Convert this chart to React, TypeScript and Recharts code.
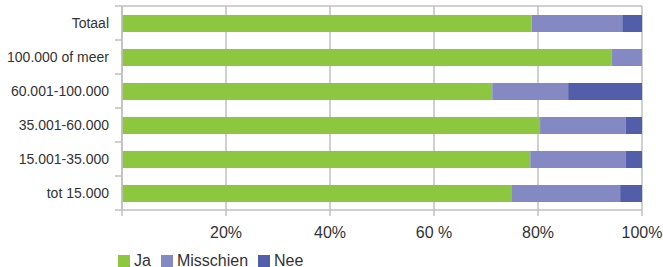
import React from 'react';
import { BarChart, Bar, XAxis, YAxis, CartesianGrid, Legend } from 'recharts';

const categories = ['Totaal', '100.000 of meer', '60.001-100.000', '35.001-60.000', '15.001-35.000', 'tot 15.000'];
const ja = [78.8, 94.2, 71.2, 80.4, 78.5, 75.0];
const misschien = [17.4, 5.8, 14.6, 16.5, 18.4, 20.8];
const nee = [3.8, 0, 14.2, 3.1, 3.1, 4.2];

const xTicks = [0, 20, 40, 60, 80, 100];
const xTickLabels = ['', '20%', '40%', '60 %', '80%', '100%'];

const series = [
  { key: 'ja', name: 'Ja', color: '#8dc63f' },
  { key: 'misschien', name: 'Misschien', color: '#8489c4' },
  { key: 'nee', name: 'Nee', color: '#525ea9' },
];

const data = categories.map((name, i) => ({
  name,
  ja: ja[i],
  misschien: misschien[i],
  nee: nee[i],
}));

const FONT = '"Liberation Sans", Arial, sans-serif';
const GRID = '#c0c0c0';
const TICK_SIZE = 7;
const TICK_MARGIN = 6;

// category label plus a small tick at the band boundaries (like the original)
const CategoryTick = ({ x, y, payload, index, visibleTicksCount }: any) => {
  const half = payload?.offset ?? 0;
  const axisX = x + TICK_SIZE + TICK_MARGIN;
  return (
    <g>
      <line x1={axisX - TICK_SIZE} x2={axisX} y1={y - half} y2={y - half} stroke={GRID} strokeWidth={1.5} />
      {index === visibleTicksCount - 1 && (
        <line x1={axisX - TICK_SIZE} x2={axisX} y1={y + half} y2={y + half} stroke={GRID} strokeWidth={1.5} />
      )}
      <text x={x} y={y} dy="0.355em" textAnchor="end" fill="#333" fontSize={14} fontFamily={FONT}>
        {payload.value}
      </text>
    </g>
  );
};

const LegendContent = () => (
  <div style={{ display: 'flex', alignItems: 'center', height: 21, fontFamily: FONT, fontSize: 16, color: '#333' }}>
    {series.map(s => (
      <div key={s.key} style={{ display: 'flex', alignItems: 'center', marginRight: 10 }}>
        <span style={{ display: 'inline-block', width: 12, height: 12, background: s.color, marginRight: 4 }} />
        <span>{s.name}</span>
      </div>
    ))}
  </div>
);

export default function App() {
  return (
    <div style={{ width: 663, height: 267, background: '#fff' }}>
      <style>{`body{margin:0}`}</style>
      <BarChart
        width={663}
        height={267}
        data={data}
        layout="vertical"
        margin={{ top: 5, right: 21, bottom: 6, left: 0 }}
        barSize={17}
      >
        <CartesianGrid horizontal={false} stroke={GRID} strokeWidth={1.5} />
        <XAxis
          type="number"
          domain={[0, 100]}
          ticks={xTicks}
          tickFormatter={(v: number) => xTickLabels[xTicks.indexOf(v)]}
          tickSize={6}
          tickMargin={11}
          height={30}
          tick={{ fill: '#333', fontSize: 16, fontFamily: FONT }}
          axisLine={{ stroke: GRID, strokeWidth: 1.5 }}
          tickLine={{ stroke: GRID, strokeWidth: 1.5 }}
        />
        <XAxis
          xAxisId="top"
          orientation="top"
          type="number"
          domain={[0, 100]}
          height={1}
          tick={false}
          tickLine={false}
          axisLine={{ stroke: GRID, strokeWidth: 1.5 }}
        />
        <YAxis
          type="category"
          dataKey="name"
          width={122}
          tickSize={TICK_SIZE}
          tickMargin={TICK_MARGIN}
          tickLine={false}
          axisLine={{ stroke: GRID, strokeWidth: 1.5 }}
          tick={<CategoryTick />}
        />
        {series.map(s => (
          <Bar
            key={s.key}
            dataKey={s.key}
            name={s.name}
            stackId="a"
            fill={s.color}
            isAnimationActive={false}
          />
        ))}
        <Legend
          content={<LegendContent />}
          verticalAlign="bottom"
          wrapperStyle={{ left: 118, top: 250, height: 21, width: 400 }}
        />
      </BarChart>
    </div>
  );
}
